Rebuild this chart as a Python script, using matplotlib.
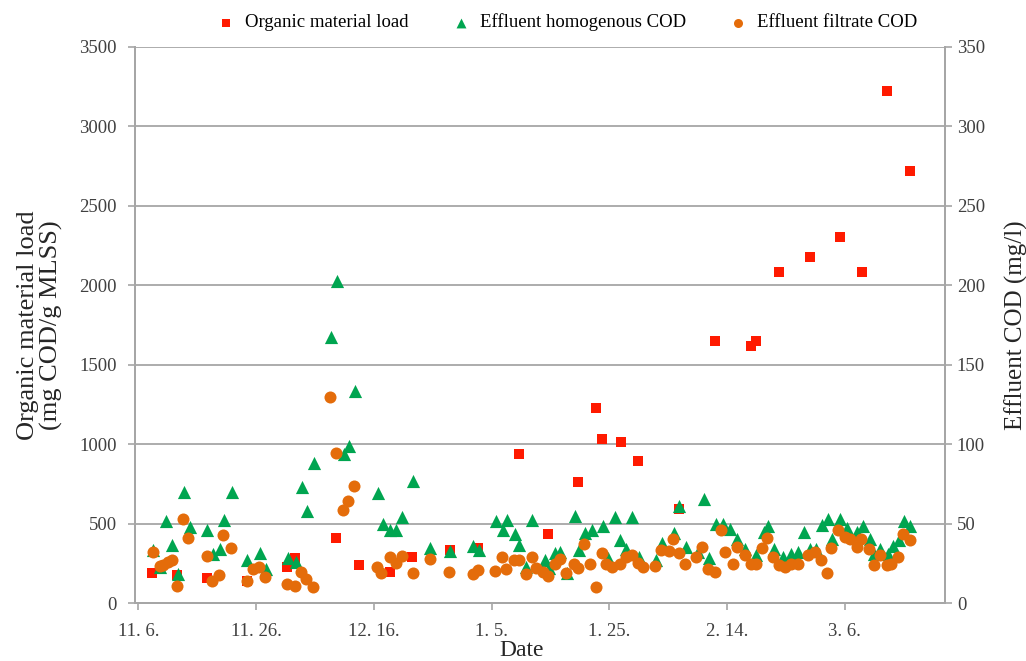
import numpy as np
import matplotlib.pyplot as plt

# ==========================================================
# DATA  (x = days since 11.6.)
# ==========================================================

tick_days = [0, 20, 40, 60, 80, 100, 120]
tick_labels = ["11. 6.", "11. 26.", "12. 16.", "1. 5.", "1. 25.", "2. 14.", "3. 6."]

load_days = [2.4, 6.6, 11.7, 18.5, 25.3, 26.6, 33.5, 37.5, 42.7, 46.5,
             52.9, 57.7, 64.6, 69.6, 74.7, 77.8, 78.8, 81.9, 84.9, 91.8,
             97.9, 104.0, 104.9, 108.8, 114.0, 119.1, 122.9, 127.1, 131.0]
load_vals = [191, 177, 160, 139, 229, 288, 412, 244, 194, 291,
             333, 348, 937, 437, 764, 1229, 1031, 1014, 896, 594,
             1650, 1620, 1652, 2083, 2177, 2302, 2083, 3221, 2721]

homo_days = [2.5, 3.6, 4.7, 5.7, 6.7, 7.7, 8.7, 11.7, 12.7, 13.8,
             14.6, 15.9, 18.5, 20.7, 21.7, 25.5, 26.8, 27.8, 28.6, 29.8,
             32.7, 33.7, 34.9, 35.8, 36.8, 40.7, 41.6, 42.7, 43.8, 44.8,
             46.6, 49.6, 52.9, 56.8, 57.8, 60.8, 61.9, 62.7, 63.9, 64.7,
             65.9, 66.9, 69.0, 69.8, 70.7, 71.7, 72.8, 74.1, 74.8, 75.9,
             77.0, 78.9, 79.8, 80.9, 81.8, 82.9, 83.8, 85.1, 87.9, 88.9,
             90.9, 91.9, 93.0, 95.0, 96.0, 96.9, 98.1, 99.3, 100.5, 101.7,
             103.0, 104.9, 106.3, 107.0, 107.9, 109.5, 110.9, 112.1, 113.0, 114.0,
             115.1, 116.1, 117.1, 117.9, 119.1, 120.4, 122.0, 123.1, 124.2, 124.9,
             125.9, 127.3, 128.2, 129.2, 130.0, 131.1]
homo_vals = [33.3, 22.9, 51.6, 36.4, 18.3, 70.2, 48.3, 46.2, 30.8, 33.9,
             52.1, 70.2, 27.1, 31.6, 21.3, 28.5, 26.0, 72.9, 58.3, 88.5,
             167.7, 202.5, 93.7, 98.9, 133.3, 69.6, 50.0, 46.3, 46.3, 54.6,
             77.0, 35.0, 33.0, 35.8, 33.8, 52.0, 46.0, 52.7, 43.8, 36.4,
             22.9, 52.7, 27.3, 22.5, 31.6, 32.3, 19.0, 54.7, 33.8, 44.0,
             46.0, 48.6, 28.8, 54.4, 40.0, 34.4, 54.1, 29.1, 27.1, 37.9,
             44.1, 61.4, 35.4, 32.3, 65.6, 28.8, 49.6, 49.6, 46.9, 40.6,
             34.4, 30.6, 44.8, 48.9, 34.4, 29.1, 31.3, 32.3, 44.8, 34.4,
             34.4, 49.4, 52.9, 40.6, 53.1, 47.5, 44.8, 48.5, 40.6, 31.3,
             34.4, 31.3, 35.8, 39.6, 51.6, 48.9]

filt_days = [2.5, 3.6, 4.2, 5.0, 5.7, 6.6, 7.6, 8.5, 11.6, 12.5,
             13.7, 14.4, 15.7, 18.4, 19.4, 20.5, 21.6, 25.3, 26.6, 27.7,
             28.5, 29.7, 32.5, 33.6, 34.8, 35.6, 36.6, 40.6, 41.3, 42.7,
             43.7, 44.7, 46.6, 49.5, 52.8, 56.8, 57.7, 60.6, 61.8, 62.5,
             63.8, 64.7, 65.8, 66.8, 67.6, 68.8, 69.6, 70.7, 71.6, 72.7,
             74.0, 74.7, 75.7, 76.7, 77.8, 78.8, 79.5, 80.4, 81.8, 82.9,
             83.8, 84.9, 85.7, 87.7, 88.7, 90.2, 90.8, 91.9, 92.8, 94.8,
             95.8, 96.8, 97.9, 98.9, 99.6, 101.0, 101.7, 103.0, 104.0, 104.9,
             106.0, 106.8, 107.8, 108.8, 109.8, 110.9, 112.1, 113.8, 114.9, 115.9,
             117.0, 117.7, 118.9, 120.1, 120.8, 122.0, 122.8, 124.1, 124.9, 125.9,
             127.1, 127.9, 129.0, 129.9, 131.0]
filt_vals = [32.3, 23.3, 24.4, 26.0, 27.1, 10.8, 53.0, 41.0, 29.8, 13.9,
             17.7, 42.7, 34.8, 14.1, 21.3, 22.9, 16.6, 12.1, 11.0, 19.4,
             15.2, 10.0, 129.6, 94.6, 58.9, 64.6, 73.9, 22.7, 18.8, 29.1,
             25.2, 29.6, 18.8, 28.1, 19.4, 18.3, 20.8, 20.6, 29.1, 21.3,
             27.1, 27.1, 18.3, 29.1, 21.9, 19.8, 17.1, 25.0, 28.1, 18.8,
             24.6, 21.9, 37.1, 25.0, 10.0, 31.6, 25.0, 22.9, 25.0, 29.1,
             30.2, 25.4, 22.9, 23.3, 33.8, 32.9, 40.6, 31.6, 25.0, 29.1,
             35.4, 21.4, 19.4, 45.8, 32.3, 24.6, 35.4, 30.2, 24.6, 24.6,
             34.8, 41.3, 29.1, 23.9, 22.9, 24.6, 24.6, 30.2, 32.3, 27.1,
             19.1, 34.8, 46.0, 41.6, 40.6, 35.4, 40.6, 34.4, 24.4, 30.2,
             23.9, 25.0, 29.1, 43.3, 40.0]

# ==========================================================
# PLOT
# ==========================================================

plt.rcParams['font.family'] = ['Liberation Serif', 'DejaVu Serif']

fig = plt.figure(figsize=(10.26, 6.61), dpi=100)
ax = fig.add_axes([0.1316, 0.0873, 0.7894, 0.8417])
ax2 = ax.twinx()

grid_c = "#A6A6A6"

s1 = ax.scatter(load_days, load_vals, marker="s", s=62, color="#FF1A00",
                linewidths=0, zorder=3, label="Organic material load")
s2 = ax2.scatter(homo_days, homo_vals, marker="^", s=90, color="#00A550",
                 linewidths=0, zorder=3, label="Effluent homogenous COD")
s3 = ax2.scatter(filt_days, filt_vals, marker="o", s=75, color="#E46C0A",
                 linewidths=0, zorder=4, label="Effluent filtrate COD")

ax.set_xlim(-0.56, 137)
ax.set_ylim(0, 3500)
ax2.set_ylim(0, 350)

ax.set_yticks(np.arange(0, 3501, 500))
ax2.set_yticks(np.arange(0, 351, 50))
ax.set_xticks(tick_days)
ax.set_xticklabels(tick_labels)

ax.yaxis.grid(True, color=grid_c, linewidth=1.3)
ax.set_axisbelow(True)

for a in (ax, ax2):
    for sp in a.spines.values():
        sp.set_color(grid_c)
        sp.set_linewidth(1.3)
    a.spines["top"].set_visible(False)
    a.tick_params(colors="#404040", labelsize=13.5, length=5, width=1.2,
                  color=grid_c)
ax.tick_params(axis="y", pad=8)
ax.tick_params(axis="x", pad=9)

ax.set_xlabel("Date", fontsize=17, color="#262626")
ax.xaxis.set_label_coords(0.477, -0.066)
ax.set_ylabel("Organic material load\n(mg COD/g MLSS)", fontsize=19,
              color="#262626", labelpad=12, linespacing=1.05)
ax2.set_ylabel("Effluent COD (mg/l)", fontsize=18, color="#262626",
               labelpad=14)

fig.legend(handles=[s1, s2, s3], loc="upper center", ncol=3,
           bbox_to_anchor=(0.548, 1.005), frameon=False, fontsize=13.5,
           handletextpad=0.0, columnspacing=1.8, markerscale=0.75)

plt.savefig("out.png", dpi=100)
